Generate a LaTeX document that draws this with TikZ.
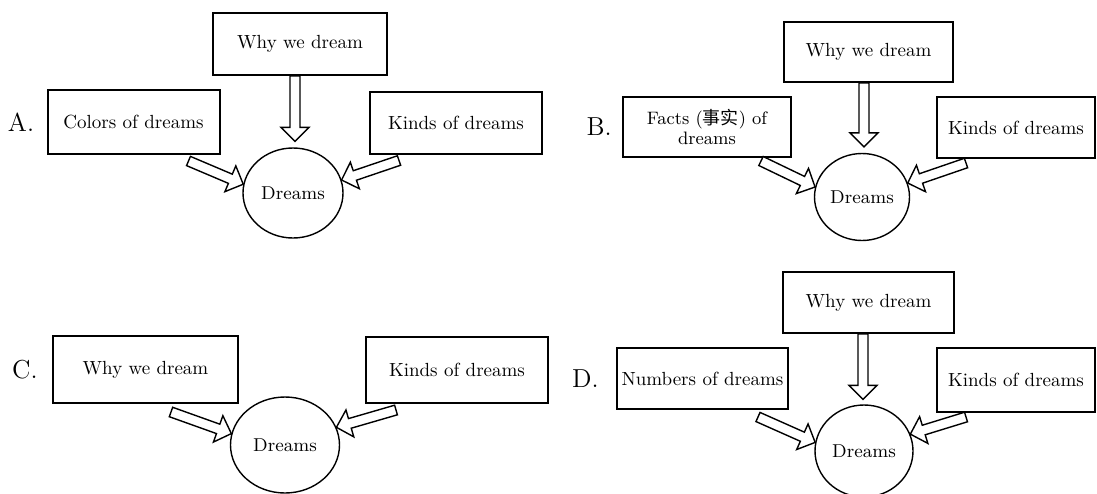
\documentclass[tikz,border=0pt]{standalone}
\usepackage{fontspec}
\newfontfamily\cjk{Noto Sans CJK SC}
\usepackage{tikz}
\usetikzlibrary{shapes,positioning,calc}

\begin{document}
\begin{tikzpicture}[x=0.5pt, y=-0.5pt, auto]
\tikzstyle{block} = [rectangle, draw, line width=1pt, minimum width=86pt, minimum height=31pt, inner sep=2pt, text centered, font=\fontsize{9.5}{11}\selectfont]
\tikzstyle{dream} = [ellipse, draw, line width=0.7pt, inner sep=0pt, font=\fontsize{9.3}{11}\selectfont]
\tikzstyle{tag} = [inner sep=0pt, font=\fontsize{13}{15}\selectfont]
\tikzstyle{line} = [draw, fill=white, line width=0.7pt, line join=miter, to path={
  let \p1=(\tikztostart), \p2=(\tikztotarget), \n1={atan2(\y2-\y1,\x2-\x1)}, \p3=($(\p2)!7pt!(\p1)$) in
  ($(\p1)+(\n1+90:2.5pt)$) -- ($(\p3)+(\n1+90:2.5pt)$) -- ($(\p3)+(\n1+90:7pt)$) -- (\p2)
  -- ($(\p3)+(\n1-90:7pt)$) -- ($(\p3)+(\n1-90:2.5pt)$) -- ($(\p1)+(\n1-90:2.5pt)$) -- cycle}]

\useasboundingbox (0,0) rectangle (1097,493);

% A
\node [dream, minimum width=50pt, minimum height=45pt] (dA) at (293,193) {Dreams};
\node [block, above of=dA, node distance=74.5pt, xshift=3.5pt, minimum width=87pt] (wA) {Why we dream};
\node [block, left of=dA, node distance=79.75pt, yshift=35.5pt, minimum height=32pt] (cA) {Colors of dreams};
\node [block, right of=dA, node distance=81.5pt, yshift=35.25pt] (kA) {Kinds of dreams};
\node [tag, left=6pt of cA] (lA) {A.};

\path [line] ([xshift=-2.5pt]wA.south) to ([xshift=1pt,yshift=3pt]dA.north);
\path [line] ([xshift=-16pt,yshift=-3pt]cA.south east) to (dA.170);
\path [line] ([xshift=15pt,yshift=-3pt]kA.south west) to (dA.15);

% B
\node [dream, minimum width=47.5pt, minimum height=43.5pt] (dB) at (862,197) {Dreams};
\node [block, above of=dB, node distance=72.5pt, xshift=3.25pt, minimum width=84.5pt, minimum height=30pt] (wB) {Why we dream};
\node [block, left of=dB, node distance=77.5pt, yshift=35pt, minimum width=84pt, minimum height=30pt, align=center, font=\fontsize{9}{10}\selectfont] (fB) {Facts ({\cjk 事实}) of\\dreams};
\node [block, right of=dB, node distance=77pt, yshift=34.75pt, minimum width=79pt, minimum height=30.5pt] (kB) {Kinds of dreams};
\node [tag, left=5pt of fB] (lB) {B.};

\path [line] ([xshift=-2.25pt]wB.south) to ([xshift=1pt,yshift=3pt]dB.north);
\path [line] ([xshift=-15.5pt,yshift=-1.5pt]fB.south east) to (dB.168);
\path [line] ([xshift=15pt,yshift=-2pt]kB.south west) to (dB.17);

% C
\node [dream, minimum width=54.5pt, minimum height=48pt] (dC) at (285,445) {Dreams};
\node [block, left of=dC, node distance=69.75pt, yshift=37.75pt, minimum width=92.5pt, minimum height=33.5pt] (yC) {Why we dream};
\node [block, right of=dC, node distance=86pt, yshift=37.5pt, minimum width=91pt, minimum height=33pt] (kC) {Kinds of dreams};
\node [tag, left=7pt of yC] (lC) {C.};

\path [line] ([xshift=-34pt,yshift=-4pt]yC.south east) to (dC.168);
\path [line] ([xshift=15.5pt,yshift=-3pt]kC.south west) to (dC.19);

% D
\node [dream, minimum width=49pt, minimum height=46pt] (dD) at (864,451) {Dreams};
\node [block, above of=dD, node distance=74.25pt, xshift=2.25pt, minimum width=85.5pt, minimum height=30.5pt] (wD) {Why we dream};
\node [block, left of=dD, node distance=80.75pt, yshift=36.25pt, minimum width=85.5pt, minimum height=30.5pt] (nD) {Numbers of dreams};
\node [block, right of=dD, node distance=76pt, yshift=35.5pt, minimum width=79pt, minimum height=32pt] (kD) {Kinds of dreams};
\node [tag, left=8.5pt of nD] (lD) {D.};

\path [line] ([xshift=-2.75pt]wD.south) to ([xshift=-0.5pt,yshift=2.5pt]dD.north);
\path [line] ([xshift=-15.5pt,yshift=-3.5pt]nD.south east) to (dD.170);
\path [line] ([xshift=15pt,yshift=-2pt]kD.south west) to (dD.20);
\end{tikzpicture}
\end{document}
